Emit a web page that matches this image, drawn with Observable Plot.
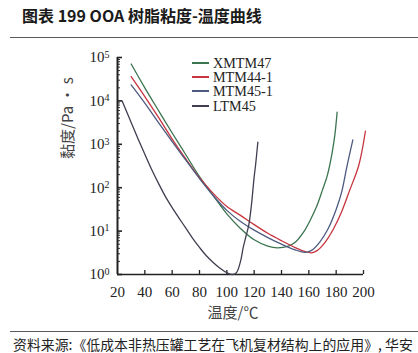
<!DOCTYPE html>
<html>
<head>
<meta charset="utf-8">
<script src="https://cdn.jsdelivr.net/npm/d3@7"></script>
<script src="https://cdn.jsdelivr.net/npm/@observablehq/plot@0.6"></script>
<style>
  html, body { margin: 0; padding: 0; background: #fff; width: 418px; height: 353px; overflow: hidden; }
  #wrap { position: relative; width: 418px; height: 353px; }
  #chart { position: absolute; left: 0; top: 0; }
  .title { position: absolute; left: 22px; top: 5px; font: bold 16px "Noto Sans CJK SC", sans-serif; line-height: 20px; color: #1a1a1a; white-space: nowrap; }
  .rule { position: absolute; left: 10px; right: 0; height: 0; border-top: 1.5px solid #5a5a5a; }
  .source { position: absolute; left: 13px; top: 336px; font: 13.9px "Noto Sans CJK SC", sans-serif; line-height: 16px; color: #222; white-space: nowrap; }
  #legend { position: absolute; left: 192px; top: 56px; }
  .lrow { height: 14.2px; display: flex; align-items: center; white-space: nowrap; }
  .lrow span.t { font: 14.2px "Liberation Serif", serif; line-height: 12px; color: #222; }
  .sw { display: inline-block; width: 17px; height: 2px; margin-right: 4px; }
</style>
</head>
<body>
<div id="wrap">
  <div id="chart"></div>
  <div class="title" id="title"></div>
  <div class="rule" style="top:37px"></div>
  <div id="legend"></div>
  <div class="rule" style="top:331px"></div>
  <div class="source" id="source"></div>
</div>
<script>
const titleText = "图表 199 OOA 树脂粘度-温度曲线";
const sourceText = "资料来源:《低成本非热压罐工艺在飞机复材结构上的应用》, 华安";
const xLabel = "温度/℃";
const yLabel = "黏度/Pa · s";

const seriesNames = ["XMTM47", "MTM44-1", "MTM45-1", "LTM45"];
const seriesColors = ["#3b7550", "#c6343e", "#4d5b80", "#403e50"];

const xTicks = [20, 40, 60, 80, 100, 120, 140, 160, 180, 200];
const yTicks = [1, 10, 100, 1000, 10000, 100000];

// temperature (°C) and viscosity (Pa·s)
const tempXMTM47 = [30, 40, 50, 60, 70, 80, 90, 100, 110, 120, 130, 137, 145, 150, 156, 161, 166, 170, 173.5, 177, 179, 180.7];
const viscXMTM47 = [70800, 20000, 6000, 1820, 575, 180, 66, 25, 11.5, 6.3, 4.5, 4.1, 4.5, 5.5, 9.3, 17.8, 39, 89, 190, 630, 1600, 5500];

const tempMTM44 = [30, 40, 50, 60, 70, 80, 90, 100, 110, 120, 130, 140, 150, 157, 162, 166, 172, 178, 184, 190, 196.5, 201.4];
const viscMTM44 = [36300, 12600, 4170, 1320, 460, 170, 74, 37, 23, 14.1, 8.9, 6.0, 4.17, 3.4, 3.16, 3.55, 5.6, 11.2, 28, 89, 324, 2000];

const tempMTM45 = [30, 40, 50, 60, 70, 80, 90, 100, 110, 120, 130, 140, 150, 157, 162, 168, 174, 180, 184, 188, 192.2];
const viscMTM45 = [23400, 8900, 3160, 1150, 430, 162, 66, 30, 16.6, 10.5, 7.1, 5.0, 3.7, 3.24, 3.6, 5.6, 11.2, 31.6, 79, 324, 1260];

const tempLTM45 = [23.4, 30, 35, 40, 45, 50, 55, 60, 65, 70, 75, 80, 85, 90, 95, 100, 104, 107, 110, 112, 114, 116, 118, 120, 121, 122.7];
const viscLTM45 = [10000, 3160, 1350, 589, 263, 126, 63, 34.7, 20, 11.7, 6.8, 4.2, 2.7, 1.9, 1.4, 1.1, 1.0, 1.1, 2.0, 4.2, 7.6, 13.5, 40, 178, 324, 1120];

const seriesTemps = [tempXMTM47, tempMTM44, tempMTM45, tempLTM45];
const seriesVisc = [viscXMTM47, viscMTM44, viscMTM45, viscLTM45];

const rows = [];
seriesNames.forEach((name, i) => {
  seriesTemps[i].forEach((t, j) => rows.push({series: name, t, v: seriesVisc[i][j]}));
});

const minorY = [];
for (let e = 0; e < 5; e++) for (let k = 2; k <= 9; k++) minorY.push(k * Math.pow(10, e));

const W = 418, H = 353, mL = 117, mR = 55, mT = 57, mB = 79;
const frameW = W - mL - mR, frameH = H - mT - mB;

const chart = Plot.plot({
  width: W, height: H,
  marginLeft: mL, marginRight: mR, marginTop: mT, marginBottom: mB,
  x: {domain: [20, 200]},
  y: {type: "log", domain: [1, 100000]},
  color: {domain: seriesNames, range: seriesColors},
  style: {fontFamily: "Liberation Serif, serif", fontSize: "15px", color: "#222", background: "transparent"},
  marks: [
    Plot.axisX({ticks: xTicks, tickSize: 0, tickPadding: 12, tickFormat: d => String(d), label: null, fontSize: 15}),
    Plot.axisY({ticks: yTicks, tickSize: 0, tickPadding: 8, tickFormat: d => "10^" + Math.round(Math.log10(d)), label: null, fontSize: 15}),
    Plot.tickX(xTicks.slice(1), {x: d => d, insetTop: frameH - 4, stroke: "#222", strokeWidth: 1.3}),
    Plot.tickY(minorY, {y: d => d, insetRight: frameW - 3, stroke: "#333", strokeWidth: 1}),
    Plot.tickY(yTicks, {y: d => d, insetRight: frameW - 5, stroke: "#222", strokeWidth: 1.6}),
    Plot.ruleX([20], {stroke: "#222", strokeWidth: 2}),
    Plot.ruleY([1], {stroke: "#222", strokeWidth: 1.6}),
    Plot.line(rows, {x: "t", y: "v", z: "series", stroke: "series", strokeWidth: 1.3, curve: "catmull-rom"}),
    Plot.text([yLabel], {text: d => d, frameAnchor: "left", dx: -49, dy: -7, rotate: -90, fontFamily: "Noto Sans CJK SC", fontSize: 15, fill: "#444"}),
    Plot.text([xLabel], {text: d => d, frameAnchor: "bottom", dx: -7.5, dy: 43, fontFamily: "Noto Sans CJK SC", fontSize: 15, fill: "#444"})
  ]
});

d3.select(chart).selectAll('g[aria-label="y-axis tick label"] text').each(function() {
  const parts = this.textContent.split("^");
  this.textContent = "";
  const s = d3.select(this);
  s.append("tspan").text(parts[0]);
  s.append("tspan").attr("dy", "-0.45em").attr("font-size", "10px").text(parts[1]);
});

document.getElementById("chart").appendChild(chart);
document.getElementById("title").textContent = titleText;
document.getElementById("source").textContent = sourceText;

const legend = document.getElementById("legend");
seriesNames.forEach((name, i) => {
  const row = document.createElement("div");
  row.className = "lrow";
  const sw = document.createElement("span");
  sw.className = "sw";
  sw.style.background = seriesColors[i];
  row.appendChild(sw);
  const t = document.createElement("span");
  t.className = "t";
  t.textContent = name;
  row.appendChild(t);
  legend.appendChild(row);
});
</script>
</body>
</html>
